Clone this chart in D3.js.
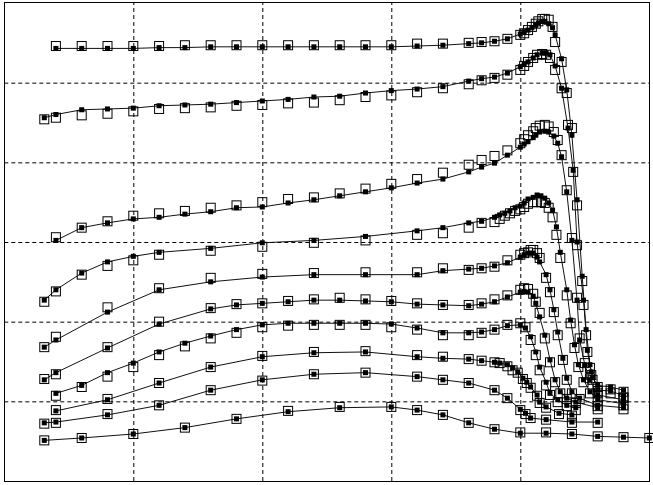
<!DOCTYPE html>
<html>
<head>
<meta charset="utf-8">
<script src="https://cdn.jsdelivr.net/npm/d3@7"></script>
<style>
  body { margin: 0; background: #fff; }
</style>
</head>
<body>
<svg id="viz" width="653" height="485"></svg>
<script>
const svg = d3.select("#viz");

// grid positions (no labels on the original)
const xGrid = [50, 100, 150, 200];
const yGrid = [10, 20, 30, 40, 50];

// series A (top)
const xA = [20,30,40,50,60,70,80,90,100,110,120,130,140,150,160,170,180,185,190,195,200,201.5,203,204.5,206,207,208.5,209.5,211,212.5,213.5,216,218,220,222,224,225.5,227,228,230,235,240];
const simA = [54.3,54.3,54.3,54.3,54.4,54.4,54.5,54.5,54.5,54.5,54.5,54.5,54.5,54.5,54.6,54.7,54.9,55.0,55.2,55.5,56.1,56.4,56.6,56.9,57.2,57.5,57.7,57.7,57.4,56.9,56.0,53.0,49.1,43.4,35.3,25.7,19.0,14.6,13.0,12.0,11.8,11.4];
const expA = [54.6,54.6,54.6,54.6,54.6,54.7,54.7,54.7,54.7,54.7,54.7,54.7,54.7,54.7,54.9,54.9,55.0,55.1,55.2,55.5,56.0,56.2,56.6,57.0,57.4,57.7,58.0,58.0,57.9,57.0,55.1,52.6,48.7,44.3,34.6,25.1,18.3,14.2,12.7,11.8,11.5,11.2];

// series B
const xB = [15.5,20,30,40,50,60,70,80,90,100,110,120,130,140,150,160,170,180,185,190,195,200,201.5,203,205,206.5,208.5,210,211.5,213.5,216,218.5,220.5,222,224.5,226,227.5,230,235,240];
const simB = [45.6,46.0,46.6,46.7,46.8,47.1,47.2,47.3,47.5,47.7,47.9,48.2,48.3,48.7,49.0,49.2,49.5,50.2,50.5,50.7,51.2,52.0,52.3,52.6,53.1,53.5,53.7,53.7,53.5,52.1,49.3,44.3,39.0,30.0,22.7,16.4,13.7,11.4,11.3,10.7];
const expB = [45.4,45.6,45.9,46.1,46.4,46.7,46.8,46.9,47.1,47.2,47.4,47.5,47.8,48.2,48.4,48.8,49.3,49.8,50.3,50.6,51.0,51.6,52.1,52.6,53.1,53.5,53.6,53.5,53.1,51.6,49.3,44.7,38.8,29.6,22.1,16.2,13.3,11.3,11.0,10.5];

// series C
const xC = [20,30,40,50,60,70,80,90,100,110,120,130,140,150,160,170,180,185,190,195,200,201.5,203,205,206,207.5,209.5,211,213,214.5,216,218,220,222,223,225,227,230,240];
const simC = [30.2,31.8,32.4,32.9,33.1,33.5,33.8,34.3,34.4,34.9,35.3,35.8,36.3,36.8,37.4,37.9,38.8,39.4,39.9,40.9,41.9,42.3,42.6,43.1,43.4,43.8,43.9,43.8,43.3,42.4,40.7,36.3,30.2,22.7,17.7,14.6,12.7,10.8,10.2];
const expC = [30.6,31.8,32.6,33.3,33.6,33.9,34.3,34.6,35.0,35.4,35.6,36.1,36.7,37.3,37.9,38.7,39.7,40.3,40.8,41.5,42.4,42.9,43.4,43.9,44.3,44.6,44.7,44.5,43.8,42.8,40.9,36.5,30.5,23.0,17.9,14.8,12.9,11.0,10.4];

// series D
const xD = [15.5,20,30,40,50,60,80,100,120,140,160,170,180,185,190,192,194,196,198,200,201.5,203,205,206.5,208,209.5,211,212.5,214,215.5,218,219.5,221,222.5,224.5,227,230,240];
const simD = [22.7,24.0,26.1,27.5,28.2,28.7,29.2,29.9,30.2,30.7,31.4,31.8,32.4,32.6,33.1,33.4,33.6,33.9,34.3,34.5,34.9,35.4,35.6,35.9,35.8,35.5,34.9,34.0,31.9,28.7,24.0,20.2,17.1,14.6,12.7,11.2,10.2,9.7];
const expD = [22.5,23.8,25.9,27.0,27.7,28.4,28.9,29.4,29.9,30.2,30.9,31.1,31.8,32.4,32.5,32.9,33.3,33.6,33.9,34.1,34.4,34.8,35.0,35.0,35.0,34.9,34.3,33.1,30.9,28.0,23.3,19.8,16.7,14.3,12.4,11.0,10.0,9.5];

// series E
const xE = [15.5,20,40,60,80,100,120,140,160,170,180,185,190,195,200,201.5,203,204,205,206.5,207.5,210,211.5,213,214.5,216.5,218,220,223,230,240];
const simE = [16.8,17.7,21.2,24.0,25.0,25.6,25.9,25.9,25.9,26.4,26.6,26.7,27.0,27.4,28.1,28.4,28.6,28.6,28.6,28.1,27.5,25.9,24.0,21.5,18.7,15.4,12.9,11.2,10.4,9.5,9.2];
const expE = [16.8,18.1,21.8,24.2,25.5,26.0,26.1,26.2,26.2,26.7,26.5,26.7,26.9,27.7,28.4,28.6,28.7,29.0,29.0,28.6,28.0,25.5,23.7,21.2,18.3,15.2,12.7,11.0,10.3,9.4,9.0];

// series F
const xF = [15.5,20,40,60,80,90,100,110,120,130,140,150,160,170,180,185,190,195,200,201.5,203,205,206,207.5,209.5,211.5,213.5,215.5,218,221.5,230];
const simF = [12.7,13.6,16.7,19.7,21.6,22.1,22.3,22.5,22.7,22.7,22.6,22.5,22.2,22.1,22.0,22.2,22.5,23.1,23.7,23.8,23.7,23.2,22.3,20.6,18.3,15.2,12.7,11.2,10.4,9.9,9.2];
const expF = [12.8,13.4,16.8,20.0,21.7,22.2,22.3,22.6,22.8,23.0,22.8,22.6,22.3,22.1,22.1,22.3,22.8,23.3,24.0,24.2,24.1,23.5,22.5,21.1,17.9,14.9,12.4,11.0,10.3,9.8,9.0];

// series G
const xG = [20,30,40,50,60,70,80,90,100,110,120,130,140,150,160,170,180,185,190,195,200,202,204,206,207.5,210,211.5,214.5,218,221.5];
const simG = [11.0,12.0,13.6,14.8,16.2,17.3,18.2,19.0,19.6,19.8,19.8,19.8,19.8,19.7,19.2,18.6,18.6,18.7,19.0,19.5,19.6,19.2,18.1,16.2,14.3,12.4,11.0,10.2,9.5,9.2];
const expG = [10.7,11.8,13.1,14.3,15.8,16.9,17.9,18.6,19.3,19.5,19.6,19.6,19.6,19.3,19.0,18.3,18.3,18.6,19.0,19.6,19.8,19.3,17.7,15.8,13.9,12.0,10.8,9.9,9.4,8.9];

// series H1
const xH1 = [20,40,60,80,100,120,140,160,170,180,185,190,192,195,197,199,201,202.5,204,206.5,207.5,210,215,220];
const simH1 = [8.8,10.2,12.3,14.3,15.6,16.1,16.2,15.6,15.4,15.3,15.1,14.9,14.8,14.6,14.2,13.7,12.9,12.4,11.8,10.8,9.9,9.3,8.5,8.3];
const expH1 = [8.9,10.3,12.3,14.3,15.7,16.2,16.3,15.8,15.6,15.3,15.1,14.9,14.8,14.4,13.9,13.6,12.8,12.3,11.7,10.7,9.8,9.2,8.4,8.2];

// series H2
const xH2 = [15.5,20,40,60,80,100,120,140,160,170,180,190,195,200,202,204,210,220,230];
const simH2 = [7.3,7.4,8.3,9.5,11.4,12.7,13.4,13.6,13.1,12.7,12.3,11.4,10.4,9.0,8.5,7.9,7.7,7.4,7.4];
const expH2 = [7.2,7.3,8.4,9.5,11.4,12.6,13.4,13.6,13.1,12.7,12.3,11.4,10.4,8.9,8.4,7.9,7.7,7.3,7.3];

// series I (bottom)
const xI = [15.5,30,50,70,90,110,130,150,160,170,180,190,200,210,220,230,240,250];
const simI = [5.1,5.4,5.9,6.7,7.8,8.7,9.2,9.3,8.9,8.3,7.3,6.5,6.0,6.0,5.9,5.6,5.5,5.4];
const expI = [5.1,5.4,5.9,6.7,7.8,8.8,9.3,9.3,8.9,8.3,7.3,6.5,6.1,6.1,5.9,5.6,5.5,5.4];

const series = [
  { x: xA, sim: simA, exp: expA },
  { x: xB, sim: simB, exp: expB },
  { x: xC, sim: simC, exp: expC },
  { x: xD, sim: simD, exp: expD },
  { x: xE, sim: simE, exp: expE },
  { x: xF, sim: simF, exp: expF },
  { x: xG, sim: simG, exp: expG },
  { x: xH1, sim: simH1, exp: expH1 },
  { x: xH2, sim: simH2, exp: expH2 },
  { x: xI, sim: simI, exp: expI }
];

const plotLeft = 4.3, plotRight = 649.3, plotTop = 3, plotBottom = 481;
const x = d3.scaleLinear().domain([0, 250]).range([plotLeft, plotRight]);
const y = d3.scaleLinear().domain([0, 60]).range([plotBottom, plotTop]);

// dashed grid from the axes, labels off
svg.append("g")
  .attr("transform", `translate(0,${plotBottom})`)
  .call(d3.axisBottom(x).tickValues(xGrid).tickSize(-(plotBottom - plotTop)).tickFormat(""))
  .call(g => g.select(".domain").remove())
  .selectAll("line")
  .attr("stroke", "#000")
  .attr("stroke-dasharray", "4,3");

svg.append("g")
  .attr("transform", `translate(${plotLeft},0)`)
  .call(d3.axisLeft(y).tickValues(yGrid).tickSize(-(plotRight - plotLeft)).tickFormat(""))
  .call(g => g.select(".domain").remove())
  .selectAll("line")
  .attr("stroke", "#000")
  .attr("stroke-dasharray", "4,3");

const plot = svg.append("g");

const line = d3.line()
  .x(d => x(d[0]))
  .y(d => y(d[1]));

series.forEach(s => {
  const simPts = s.x.map((v, i) => [v, s.sim[i]]);
  const expPts = s.x.map((v, i) => [v, s.exp[i]]);

  // simulated curve
  plot.append("path")
    .datum(simPts)
    .attr("d", line)
    .attr("fill", "none")
    .attr("stroke", "#111")
    .attr("stroke-width", 1);

  // measured points: open squares
  plot.append("g")
    .selectAll("rect")
    .data(expPts)
    .join("rect")
    .attr("x", d => x(d[0]) - 4.5)
    .attr("y", d => y(d[1]) - 4.5)
    .attr("width", 9)
    .attr("height", 9)
    .attr("fill", "none")
    .attr("stroke", "#000")
    .attr("stroke-width", 1);

  // simulated points: small filled squares
  plot.append("g")
    .selectAll("rect")
    .data(simPts)
    .join("rect")
    .attr("x", d => x(d[0]) - 2.5)
    .attr("y", d => y(d[1]) - 2.5)
    .attr("width", 5)
    .attr("height", 5)
    .attr("fill", "#000");
});

// frame
svg.append("rect")
  .attr("x", 4.5)
  .attr("y", 2.5)
  .attr("width", 645)
  .attr("height", 479)
  .attr("fill", "none")
  .attr("stroke", "#000")
  .attr("stroke-width", 1);
</script>
</body>
</html>
